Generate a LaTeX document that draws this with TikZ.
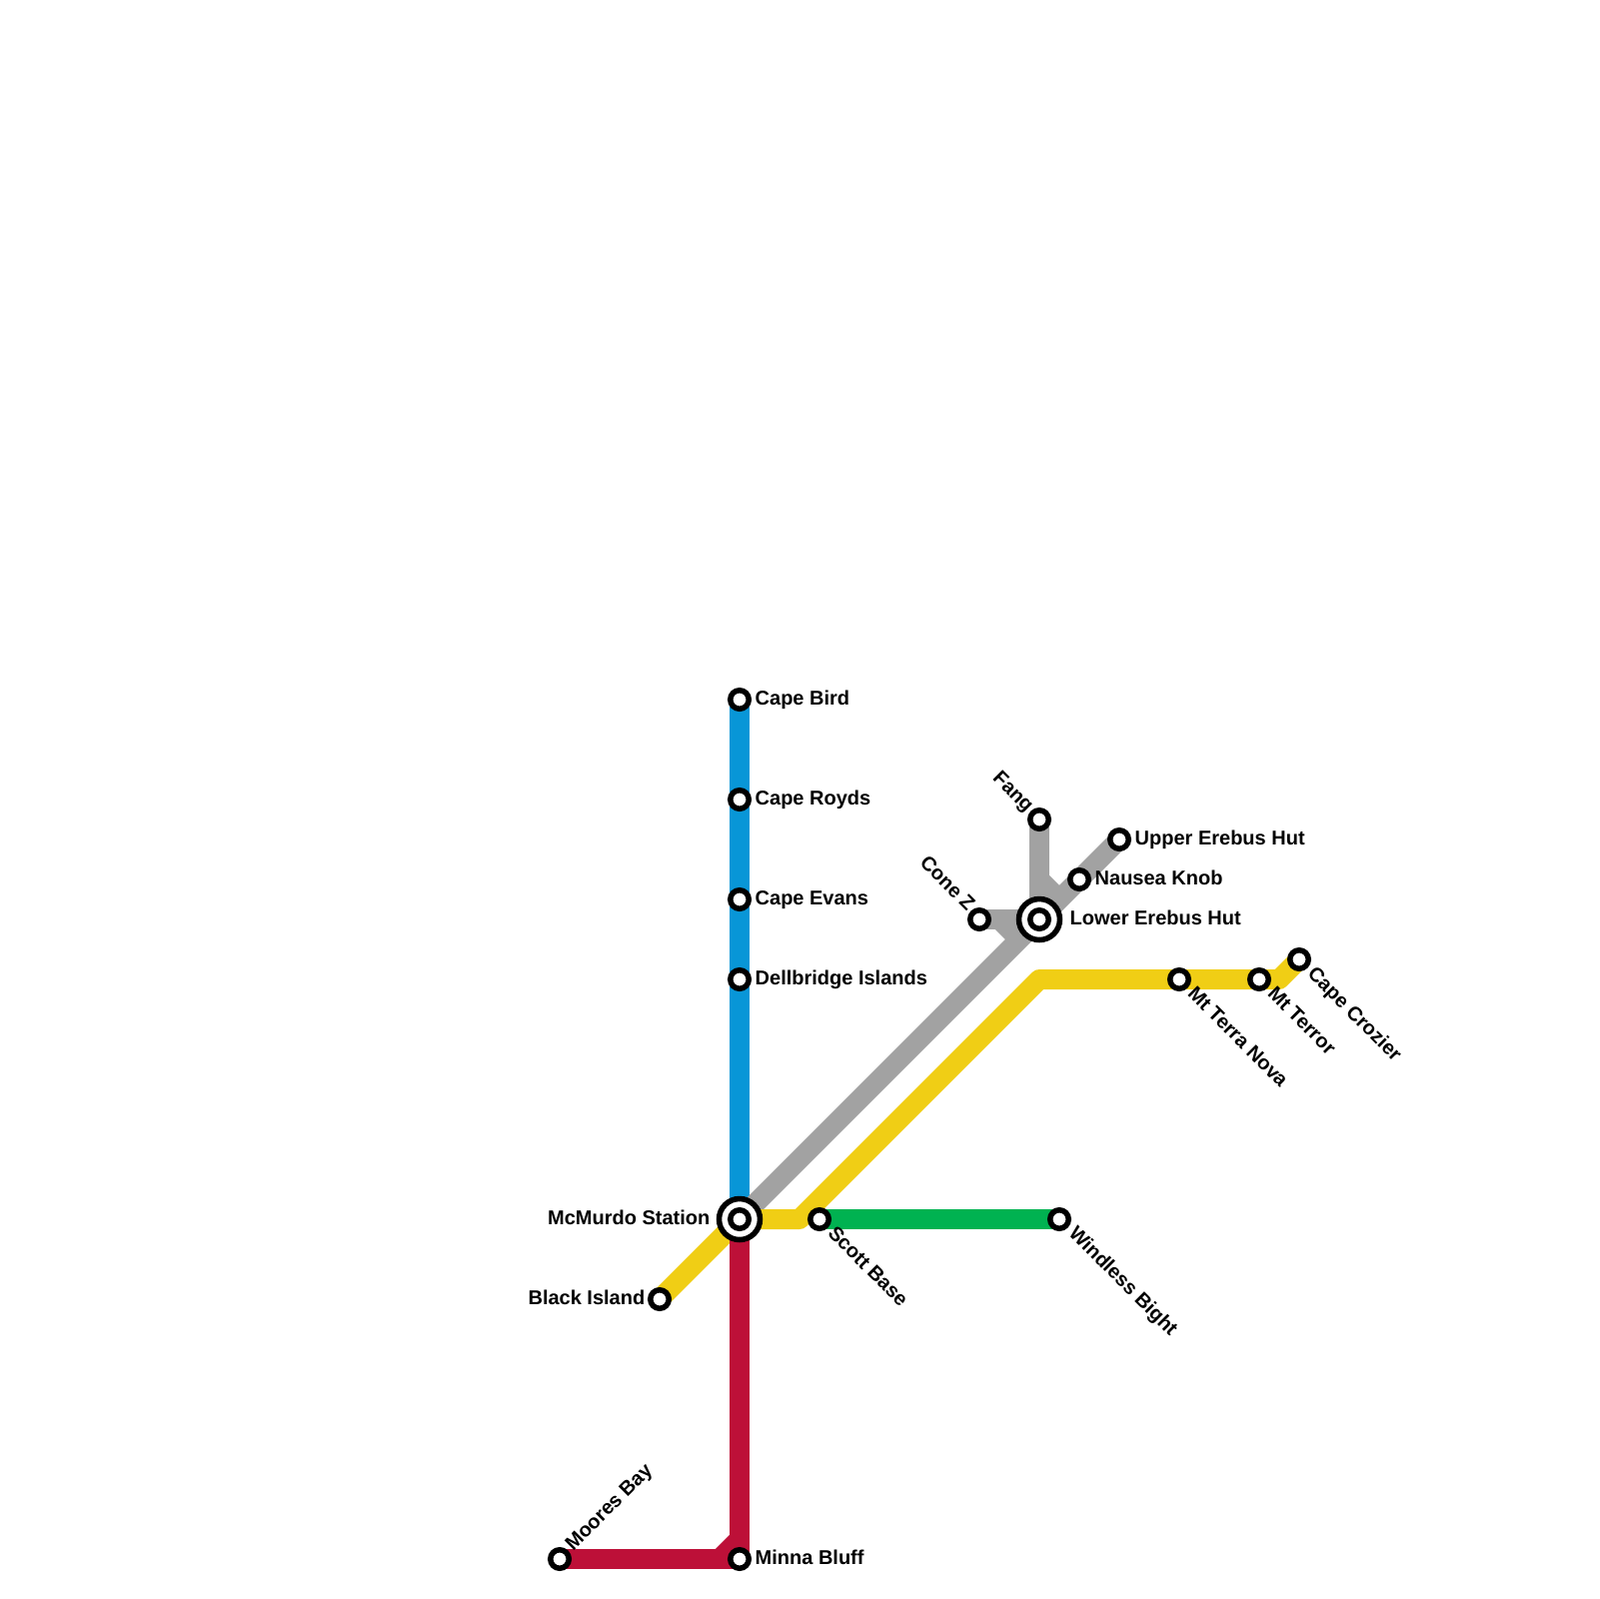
\documentclass[tikz,border=0pt]{standalone}
\usepackage{fontspec}
\setmainfont{Liberation Sans}
\usetikzlibrary{backgrounds}
\definecolor{lineblue}{HTML}{0896D7}
\definecolor{linegray}{HTML}{A2A2A2}
\definecolor{lineyellow}{HTML}{F0CE15}
\definecolor{linegreen}{HTML}{00B251}
\definecolor{linered}{HTML}{BD1038}
\tikzset{
  stn/.style={circle, draw=black, fill=white, line width=.55mm, minimum size=1.85mm, inner sep=0pt},
  stnbig/.style={stn, minimum size=4.1mm},
  metro/.style={line width=2mm, line join=round},
  lbl/.style={inner sep=0pt, anchor=base west, font=\fontsize{5.69}{7}\bfseries\selectfont},
  lblr/.style={lbl, anchor=base east}
}

\begin{document}
\begin{tikzpicture}[x=.1mm,y=-.1mm]
  \useasboundingbox (0,0) rectangle (1600,1600);
  % bends
  \coordinate (bendred) at (740,1540);
  \coordinate (bendredb) at (720,1560);
  \coordinate (bendyellow) at (800,1220);
  \coordinate (bendyellowb) at (1040,980);
  \coordinate (bendyellowc) at (1280,980);
  \coordinate (bendfang) at (1040,880);
  \coordinate (joinfang) at (1060,900);
  \coordinate (bendcone) at (1000,920);
  \coordinate (joincone) at (1020,940);
  % interchanges
  \node [stnbig] (mcmurdoring) at (740,1220) {};
  \node [stn] (mcmurdo) at (740,1220) {};
  \node [stnbig] (lowerring) at (1040,920) {};
  \node [stn] (lower) at (1040,920) {};
  % stations
  \node [stn] (bird) at (740,700) {};
  \node [stn] (royds) at (740,800) {};
  \node [stn] (evans) at (740,900) {};
  \node [stn] (dellbridge) at (740,980) {};
  \node [stn] (black) at (660,1300) {};
  \node [stn] (scott) at (820,1220) {};
  \node [stn] (windless) at (1060,1220) {};
  \node [stn] (fang) at (1040,820) {};
  \node [stn] (upper) at (1120,840) {};
  \node [stn] (nausea) at (1080,880) {};
  \node [stn] (cone) at (980,920) {};
  \node [stn] (terranova) at (1180,980) {};
  \node [stn] (terror) at (1260,980) {};
  \node [stn] (crozier) at (1300,960) {};
  \node [stn] (moores) at (560,1560) {};
  \node [stn] (minna) at (740,1560) {};
  % lines
  \begin{scope}[on background layer]
    \draw [metro, lineblue] (bird.center) -- (royds.center) -- (evans.center) -- (dellbridge.center) -- (mcmurdo.center);
    \draw [metro, linegray] (mcmurdo.center) -- (lower.center) -- (nausea.center) -- (upper.center);
    \draw [metro, linegray] (fang.center) -- (lower.center);
    \draw [metro, linegray] (bendfang) -- (joinfang);
    \draw [metro, linegray] (cone.center) -- (lower.center);
    \draw [metro, linegray] (bendcone) -- (joincone);
    \draw [metro, lineyellow] (black.center) -- (mcmurdo.center) -- (bendyellow) -- (bendyellowb) -- (terranova.center) -- (terror.center) -- (bendyellowc) -- (crozier.center);
    \draw [metro, linegreen] (scott.center) -- (windless.center);
    \draw [metro, linered] (mcmurdo.center) -- (minna.center) -- (moores.center);
    \draw [metro, linered] (bendred) -- (bendredb);
  \end{scope}
  % labels
  \node [lbl] (birdlbl) at (755,705) {Cape Bird};
  \node [lbl] (roydslbl) at (755,805) {Cape Royds};
  \node [lbl] (evanslbl) at (755,905) {Cape Evans};
  \node [lbl] (dellbridgelbl) at (755,985) {Dellbridge Islands};
  \node [lblr] (mcmurdolbl) at (711,1225) {McMurdo Station};
  \node [lblr] (blacklbl) at (646,1305) {Black Island};
  \node [lbl] (minnalbl) at (755,1565) {Minna Bluff};
  \node [lbl] (upperlbl) at (1135,845) {Upper Erebus Hut};
  \node [lbl] (nausealbl) at (1095,885) {Nausea Knob};
  \node [lbl] (lowerlbl) at (1070,925) {Lower Erebus Hut};
  \node [lbl, rotate=45] (mooreslbl) at (573,1553) {Moores Bay};
  \node [lblr, rotate=-45] (fanglbl) at (1027,814) {Fang};
  \node [lblr, rotate=-45] (conelbl) at (968,913) {Cone Z};
  \node [lbl, rotate=-45] (scottlbl) at (827,1235) {Scott Base};
  \node [lbl, rotate=-45] (windlesslbl) at (1068,1235) {Windless Bight};
  \node [lbl, rotate=-45] (terranovalbl) at (1187,995) {Mt Terra Nova};
  \node [lbl, rotate=-45] (terrorlbl) at (1267,995) {Mt Terror};
  \node [lbl, rotate=-45] (crozierlbl) at (1307,975) {Cape Crozier};
\end{tikzpicture}
\end{document}
